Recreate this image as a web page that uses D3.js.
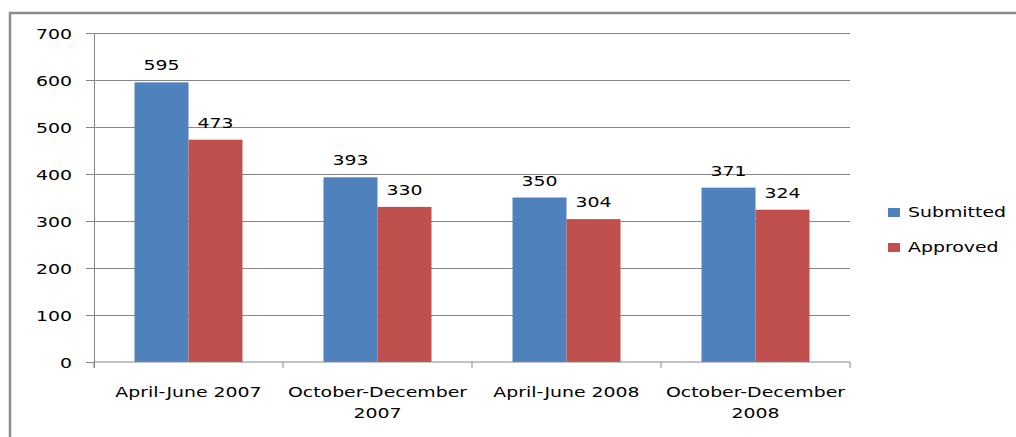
<!DOCTYPE html>
<html>
<head>
<meta charset="utf-8">
<script src="https://cdn.jsdelivr.net/npm/d3@7"></script>
<style>
  html, body { margin: 0; padding: 0; background: #fff; overflow: hidden; }
  svg { display: block; }
  svg text { font-family: "DejaVu Sans", Verdana, sans-serif; font-size: 14px; fill: #000; }
</style>
</head>
<body>
<svg id="chart"></svg>
<script>
const categories = ["April-June 2007", "October-December 2007", "April-June 2008", "October-December 2008"];
const seriesNames = ["Submitted", "Approved"];
const submitted = [595, 393, 350, 371];
const approved = [473, 330, 304, 324];
const yTicks = [0, 100, 200, 300, 400, 500, 600, 700];

const colors = { "Submitted": "#4f81bd", "Approved": "#c0504d" };
const sx = 1.35; // the reference text is stretched sideways

const width = 1016, height = 437;
const plotLeft = 94, plotRight = 850, plotTop = 33, plotBottom = 362;

const svg = d3.select("#chart").attr("width", width).attr("height", height);

// outer frame (only top and left edges are inside the picture)
svg.append("rect")
    .attr("x", 10).attr("y", 13)
    .attr("width", 1200).attr("height", 600)
    .attr("fill", "none")
    .attr("stroke", "#8c8c8c")
    .attr("stroke-width", 2.5);

const x = d3.scaleBand().domain(categories).range([plotLeft, plotRight]).padding(0);
const xs = d3.scaleBand().domain(seriesNames).range([0, x.bandwidth()]).paddingInner(0).paddingOuter(0.75);
const y = d3.scaleLinear().domain([0, 700]).range([plotBottom, plotTop]);

const data = categories.map((c, i) => ({ cat: c, values: [
    { name: "Submitted", value: submitted[i] },
    { name: "Approved", value: approved[i] }
]}));

// gridlines
svg.append("g")
    .attr("transform", `translate(${plotLeft},0)`)
    .call(d3.axisLeft(y).tickValues(yTicks.filter(d => d > 0)).tickSize(-(plotRight - plotLeft)).tickFormat(""))
    .call(g => g.select(".domain").remove())
    .call(g => g.selectAll("line").attr("stroke", "#868686"));

// bars
const groups = svg.append("g").selectAll("g")
    .data(data)
    .join("g")
    .attr("transform", d => `translate(${x(d.cat)},0)`);

groups.selectAll("rect")
    .data(d => d.values)
    .join("rect")
    .attr("x", d => xs(d.name))
    .attr("y", d => y(d.value))
    .attr("width", xs.bandwidth())
    .attr("height", d => y(0) - y(d.value))
    .attr("fill", d => colors[d.name]);

groups.selectAll("text")
    .data(d => d.values)
    .join("text")
    .attr("text-anchor", "middle")
    .attr("transform", d => `translate(${xs(d.name) + xs.bandwidth() / 2},${y(d.value) - 12}) scale(${sx},1)`)
    .text(d => d.value);

// y axis
const yAxis = svg.append("g")
    .attr("transform", `translate(${plotLeft},0)`)
    .call(d3.axisLeft(y).tickValues(yTicks).tickSize(8).tickPadding(14));
yAxis.attr("font-family", null).attr("font-size", null);
yAxis.select(".domain").attr("stroke", "#868686").attr("d", `M0.5,${plotTop}V${plotBottom + 6}`);
yAxis.selectAll("line").attr("stroke", "#868686");
yAxis.selectAll("text")
    .attr("x", null).attr("dy", null)
    .attr("transform", `translate(-22,5) scale(${sx},1)`)
    .attr("fill", "#000");

// x axis line and boundary ticks
svg.append("line")
    .attr("x1", plotLeft).attr("x2", plotRight)
    .attr("y1", y(0)).attr("y2", y(0))
    .attr("stroke", "#868686");
svg.append("g").selectAll("line")
    .data(categories.map(c => x(c)).concat([x.range()[1]]))
    .join("line")
    .attr("x1", d => d).attr("x2", d => d)
    .attr("y1", y(0)).attr("y2", y(0) + 6)
    .attr("stroke", "#868686");

// category labels, wrapped to fit the band
const catLabels = svg.append("g").selectAll("text")
    .data(categories)
    .join("text")
    .attr("text-anchor", "middle")
    .attr("transform", d => `translate(${x(d) + x.bandwidth() / 2},${y(0) + 35}) scale(${sx},1)`);

catLabels.each(function (d) {
    const t = d3.select(this);
    const words = d.split(" ");
    let line = [], lines = [];
    const probe = t.append("tspan");
    for (const w of words) {
        line.push(w);
        probe.text(line.join(" "));
        if (probe.node().getComputedTextLength() * sx > x.bandwidth() - 8 && line.length > 1) {
            line.pop();
            lines.push(line.join(" "));
            line = [w];
        }
    }
    lines.push(line.join(" "));
    probe.remove();
    lines.forEach((l, i) => t.append("tspan").attr("x", 0).attr("y", i * 21).text(l));
});

// legend
const legend = svg.append("g").selectAll("g")
    .data(seriesNames)
    .join("g")
    .attr("transform", (d, i) => `translate(888,${208 + i * 35})`);
legend.append("rect")
    .attr("width", 12).attr("height", 9)
    .attr("fill", d => colors[d]);
legend.append("text")
    .attr("transform", `translate(20,9) scale(${sx},1)`)
    .text(d => d);
</script>
</body>
</html>
